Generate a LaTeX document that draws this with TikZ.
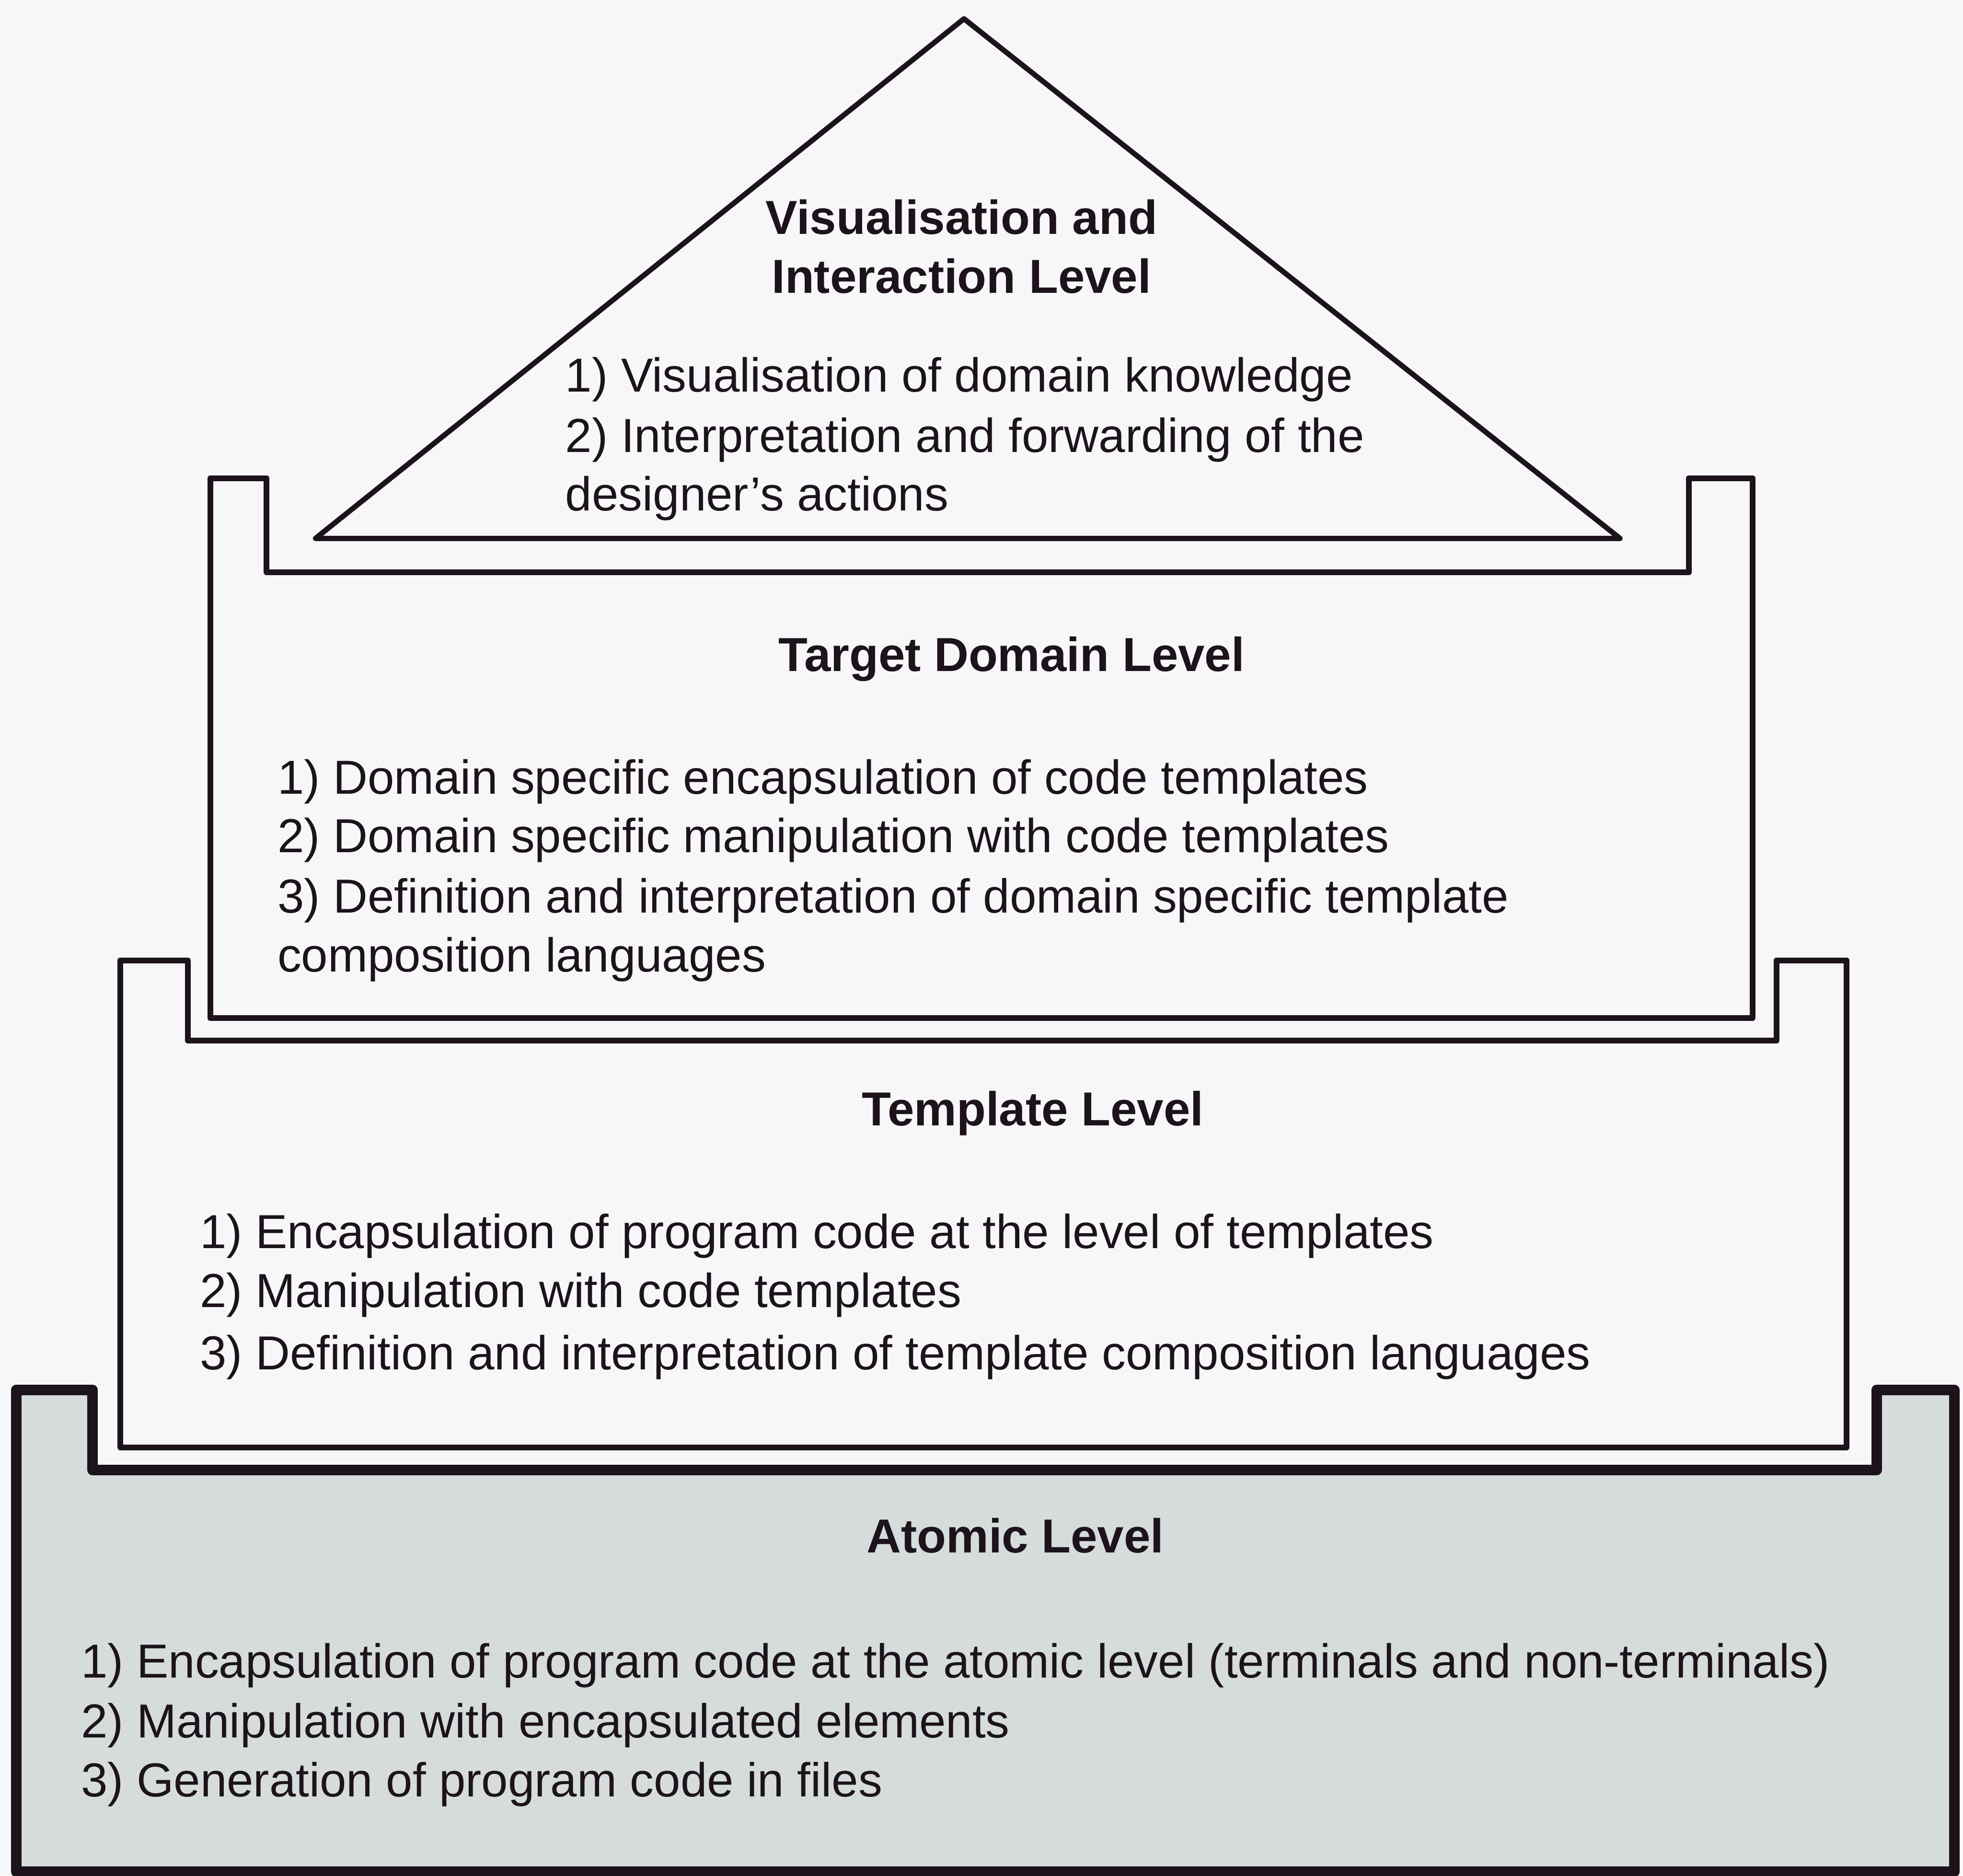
\documentclass[tikz,border=0pt]{standalone}
\usepackage{fontspec}
\setmainfont{Liberation Sans}

\definecolor{paper}{RGB}{247,247,250}
\definecolor{ink}{RGB}{28,20,26}
\definecolor{basegrey}{RGB}{214,220,219}

\tikzset{
  wall/.style={draw=ink,line width=1.3pt,line join=round},
  heading/.style={anchor=base,inner sep=0pt,text=ink,font=\fontsize{10.85}{13.5}\selectfont\bfseries},
  point/.style={anchor=base west,inner sep=0pt,text=ink,font=\fontsize{10.85}{13.5}\selectfont},
}

\begin{document}
\begin{tikzpicture}
  \fill[paper] (0,0) rectangle (15.68,-14.98);
  \useasboundingbox (0,0) rectangle (15.68,-14.98);

  % the four levels, bottom one first
  \filldraw[wall,fill=basegrey,line width=2.4pt] (0.13,-14.95) -- (0.13,-11.10) -- (0.74,-11.10) -- (0.74,-11.74)
    -- (14.99,-11.74) -- (14.99,-11.10) -- (15.61,-11.10) -- (15.61,-14.95) -- cycle;
  \draw[wall] (0.96,-11.56) -- (0.96,-7.67) -- (1.50,-7.67) -- (1.50,-8.31)
    -- (14.19,-8.31) -- (14.19,-7.67) -- (14.75,-7.67) -- (14.75,-11.56) -- cycle;
  \draw[wall] (1.68,-8.13) -- (1.68,-3.82) -- (2.13,-3.82) -- (2.13,-4.57)
    -- (13.49,-4.57) -- (13.49,-3.82) -- (14.00,-3.82) -- (14.00,-8.13) -- cycle;
  \draw[wall,line width=1.2pt] (7.70,-0.15) -- (12.94,-4.30) -- (2.52,-4.30) -- cycle;

  % roof
  \node[heading] (vis) at (7.68,-1.87) {Visualisation and};
  \node[heading] (vis2) at (7.68,-2.34) {Interaction Level};
  \node[point] (vis-a) at (4.51,-3.13) {1) Visualisation of domain knowledge};
  \node[point] (vis-b) at (4.51,-3.61) {2) Interpretation and forwarding of the};
  \node[point] (vis-c) at (4.51,-4.08) {designer's actions};

  % target domain
  \node[heading] (dom) at (8.08,-5.36) {Target Domain Level};
  \node[point] (dom-a) at (2.21,-6.34) {1) Domain specific encapsulation of code templates};
  \node[point] (dom-b) at (2.21,-6.81) {2) Domain specific manipulation with code templates};
  \node[point] (dom-c) at (2.21,-7.29) {3) Definition and interpretation of domain specific template};
  \node[point] (dom-d) at (2.21,-7.76) {composition languages};

  % templates
  \node[heading] (tpl) at (8.25,-8.99) {Template Level};
  \node[point] (tpl-a) at (1.59,-9.97) {1) Encapsulation of program code at the level of templates};
  \node[point] (tpl-b) at (1.59,-10.44) {2) Manipulation with code templates};
  \node[point] (tpl-c) at (1.59,-10.94) {3) Definition and interpretation of template composition languages};

  % atomic
  \node[heading] (atm) at (8.11,-12.40) {Atomic Level};
  \node[point] (atm-a) at (0.64,-13.40) {1) Encapsulation of program code at the atomic level (terminals and non-terminals)};
  \node[point] (atm-b) at (0.64,-13.88) {2) Manipulation with encapsulated elements};
  \node[point] (atm-c) at (0.64,-14.35) {3) Generation of program code in files};
\end{tikzpicture}
\end{document}
